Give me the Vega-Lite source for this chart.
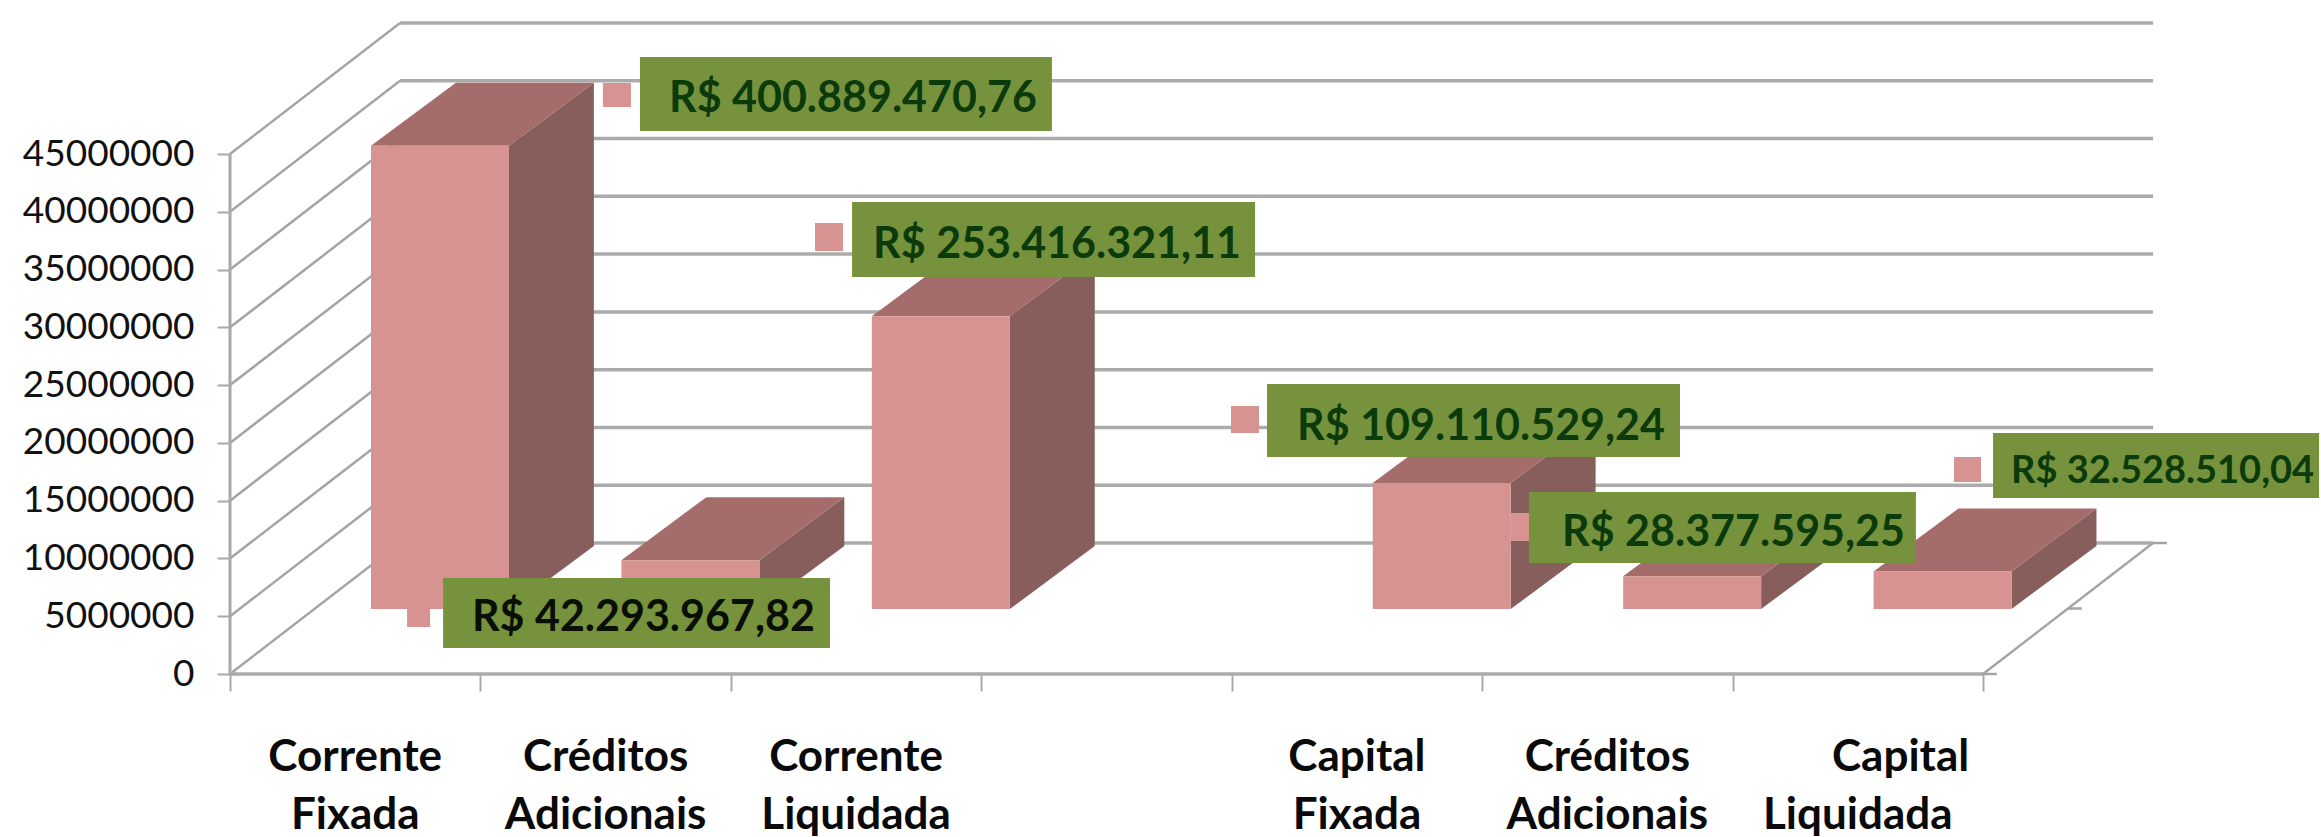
{
"$schema":"https://vega.github.io/schema/vega-lite/v6.json",
"width":2091,"height":674,
"autosize":{"type":"none"},
"padding":{"left":230,"top":0,"right":0,"bottom":163},
"background":"white",
"config":{"view":{"stroke":null},"font":"Lato"},
"datasets":{
"marcas":[{"marca":0},{"marca":5000000},{"marca":10000000},{"marca":15000000},{"marca":20000000},{"marca":25000000},{"marca":30000000},{"marca":35000000},{"marca":40000000},{"marca":45000000}],
"fundo":[{"p":0},{"p":0.5},{"p":1}],
"eixo":[{"ini":0}],
"barras":[
{"ordem":0,"categoria":"Corrente\nFixada","valor":40088947,"rotulo":"R$ 400.889.470,76","bx0":1.637,"bx1":3.282,"by0":46990000,"by1":53394000,"mx0":1.489,"mx1":1.601,"my0":49067000,"my1":51144000,"tx":1.753,"ty":50192000},
{"ordem":1,"categoria":"Créditos\nAdicionais","valor":4229397,"rotulo":"R$ 42.293.967,82","bx0":0.851,"bx1":2.396,"by0":2250000,"by1":8308000,"mx0":0.707,"mx1":0.799,"my0":4067000,"my1":6058000,"tx":0.966,"ty":5279000},
{"ordem":2,"categoria":"Corrente\nLiquidada","valor":25341632,"rotulo":"R$ 253.416.321,11","bx0":2.484,"bx1":4.093,"by0":34356000,"by1":40846000,"mx0":2.336,"mx1":2.448,"my0":36606000,"my1":39029000,"tx":2.568,"ty":37557000},
{"ordem":4,"categoria":"Capital\nFixada","valor":10911053,"rotulo":"R$ 109.110.529,24","bx0":4.141,"bx1":5.79,"by0":18779000,"by1":25096000,"mx0":3.997,"mx1":4.109,"my0":20856000,"my1":23192000,"tx":4.261,"ty":21808000},
{"ordem":5,"categoria":"Créditos\nAdicionais","valor":2837760,"rotulo":"R$ 28.377.595,25","bx0":5.187,"bx1":6.732,"by0":9606000,"by1":15750000,"mx0":5.115,"mx1":5.2,"my0":11510000,"my1":13933000,"tx":5.319,"ty":12634000},
{"ordem":6,"categoria":"\u200b\u00a0\u00a0\u00a0\u00a0\u00a0\u00a0\u00a0\u00a0Capital\nLiquidada","valor":3252851,"rotulo":"R$ 32.528.510,04","bx0":7.04,"bx1":8.342,"by0":15231000,"by1":20856000,"mx0":6.884,"mx1":6.992,"my0":16615000,"my1":18779000,"tx":7.112,"ty":17914000}
]},
"layer":[
{"data":{"name":"marcas"},
 "transform":[{"calculate":"datum.marca+11336000","as":"parede"}],
 "mark":{"type":"rule","color":"#ababab","strokeWidth":3.5},
 "encoding":{
  "x":{"datum":0.679,"type":"quantitative","scale":{"domain":[0,8.3496],"nice":false,"zero":false},
   "axis":{"values":[0,1,2,3,4,5,6,7],"labels":false,"ticks":true,"tickSize":17,"tickColor":"#a8a8a8","tickWidth":2,"domain":false,"grid":false,"title":null}},
  "x2":{"datum":7.679},
  "y":{"field":"parede","type":"quantitative","scale":{"domain":[0,58326923],"nice":false,"zero":false},
   "axis":{"values":[0,5000000,10000000,15000000,20000000,25000000,30000000,35000000,40000000,45000000],"format":"d","tickSize":13,"tickColor":"#a8a8a8","tickWidth":2,"labelFont":"Lato","labelFontSize":37,"labelColor":"#111111","labelPadding":23,"domain":false,"grid":false,"title":null}}
 }},
{"data":{"name":"marcas"},
 "transform":[{"calculate":"datum.marca+11336000","as":"parede"}],
 "mark":{"type":"rule","color":"#a4a4a4","strokeWidth":2.5},
 "encoding":{
  "x":{"datum":0,"type":"quantitative","scale":{"domain":[0,8.3496],"nice":false,"zero":false},"axis":{"title":null}},
  "x2":{"datum":0.679},
  "y":{"field":"marca","type":"quantitative","scale":{"domain":[0,58326923],"nice":false,"zero":false},"axis":{"title":null}},
  "y2":{"field":"parede"}
 }},
{"data":{"name":"eixo"},
 "mark":{"type":"rule","color":"#a8a8a8","strokeWidth":3},
 "encoding":{
  "x":{"datum":0,"type":"quantitative","scale":{"domain":[0,8.3496],"nice":false,"zero":false},"axis":{"title":null}},
  "y":{"datum":0,"type":"quantitative","scale":{"domain":[0,58326923],"nice":false,"zero":false},"axis":{"title":null}},
  "y2":{"datum":45000000}
 }},
{"data":{"name":"eixo"},
 "mark":{"type":"rule","color":"#ababab","strokeWidth":3.5},
 "encoding":{
  "x":{"datum":0,"type":"quantitative","scale":{"domain":[0,8.3496],"nice":false,"zero":false},"axis":{"title":null}},
  "x2":{"datum":7},
  "y":{"datum":0,"type":"quantitative","scale":{"domain":[0,58326923],"nice":false,"zero":false},"axis":{"title":null}}
 }},
{"data":{"name":"eixo"},
 "mark":{"type":"rule","color":"#a4a4a4","strokeWidth":2.5},
 "encoding":{
  "x":{"datum":7,"type":"quantitative","scale":{"domain":[0,8.3496],"nice":false,"zero":false},"axis":{"title":null}},
  "x2":{"datum":7.679},
  "y":{"datum":0,"type":"quantitative","scale":{"domain":[0,58326923],"nice":false,"zero":false},"axis":{"title":null}},
  "y2":{"datum":11336000}
 }},
{"data":{"name":"fundo"},
 "transform":[{"calculate":"7+0.679*datum.p","as":"xa"},{"calculate":"datum.xa+0.055","as":"xb"},{"calculate":"11336000*datum.p","as":"yp"}],
 "mark":{"type":"rule","color":"#a4a4a4","strokeWidth":2.5},
 "encoding":{
  "x":{"field":"xa","type":"quantitative","scale":{"domain":[0,8.3496],"nice":false,"zero":false},"axis":{"title":null}},
  "x2":{"field":"xb"},
  "y":{"field":"yp","type":"quantitative","scale":{"domain":[0,58326923],"nice":false,"zero":false},"axis":{"title":null}}
 }},
{"data":{"name":"barras"},
 "transform":[
  {"calculate":"datum.ordem+0.563","as":"x0"},
  {"calculate":"[0,1]","as":"t"},{"flatten":["t"]},
  {"calculate":"datum.x0+0.551+0.339*datum.t","as":"xs"},
  {"calculate":"5625000+5452000*datum.t","as":"ys0"},
  {"calculate":"datum.ys0+datum.valor","as":"ys1"}],
 "mark":{"type":"area","color":"#875E5C","orient":"vertical"},
 "encoding":{
  "x":{"field":"xs","type":"quantitative","scale":{"domain":[0,8.3496],"nice":false,"zero":false},"axis":{"title":null}},
  "y":{"field":"ys0","type":"quantitative","scale":{"domain":[0,58326923],"nice":false,"zero":false},"axis":{"title":null}},
  "y2":{"field":"ys1"},
  "detail":{"field":"ordem"}
 }},
{"data":{"name":"barras"},
 "transform":[
  {"calculate":"datum.ordem+0.563","as":"x0"},
  {"calculate":"5625000+datum.valor","as":"topo"},
  {"calculate":"[0,1,2,3]","as":"t"},{"flatten":["t"]},
  {"calculate":"datum.x0+[0,0.339,0.551,0.89][datum.t]","as":"xt"},
  {"calculate":"datum.topo+[0,0,0,5452000][datum.t]","as":"yt0"},
  {"calculate":"datum.topo+[0,5452000,5452000,5452000][datum.t]","as":"yt1"}],
 "mark":{"type":"area","color":"#A46C6B","orient":"vertical"},
 "encoding":{
  "x":{"field":"xt","type":"quantitative","scale":{"domain":[0,8.3496],"nice":false,"zero":false},"axis":{"title":null}},
  "y":{"field":"yt0","type":"quantitative","scale":{"domain":[0,58326923],"nice":false,"zero":false},"axis":{"title":null}},
  "y2":{"field":"yt1"},
  "detail":{"field":"ordem"}
 }},
{"data":{"name":"barras"},
 "transform":[
  {"calculate":"datum.ordem+0.563","as":"x0"},
  {"calculate":"datum.x0+0.551","as":"x1"},
  {"calculate":"5625000+datum.valor","as":"topo"},
  {"calculate":"5625000","as":"base"}],
 "mark":{"type":"rect","color":"#D69391"},
 "encoding":{
  "x":{"field":"x0","type":"quantitative","scale":{"domain":[0,8.3496],"nice":false,"zero":false},"axis":{"title":null}},
  "x2":{"field":"x1"},
  "y":{"field":"base","type":"quantitative","scale":{"domain":[0,58326923],"nice":false,"zero":false},"axis":{"title":null}},
  "y2":{"field":"topo"}
 }},
{"data":{"name":"barras"},
 "mark":{"type":"rect","color":"#D69391"},
 "encoding":{
  "x":{"field":"mx0","type":"quantitative","scale":{"domain":[0,8.3496],"nice":false,"zero":false},"axis":{"title":null}},
  "x2":{"field":"mx1"},
  "y":{"field":"my0","type":"quantitative","scale":{"domain":[0,58326923],"nice":false,"zero":false},"axis":{"title":null}},
  "y2":{"field":"my1"}
 }},
{"data":{"name":"barras"},
 "mark":{"type":"rect","color":"#76923C"},
 "encoding":{
  "x":{"field":"bx0","type":"quantitative","scale":{"domain":[0,8.3496],"nice":false,"zero":false},"axis":{"title":null}},
  "x2":{"field":"bx1"},
  "y":{"field":"by0","type":"quantitative","scale":{"domain":[0,58326923],"nice":false,"zero":false},"axis":{"title":null}},
  "y2":{"field":"by1"}
 }},
{"data":{"name":"barras"},
 "mark":{"type":"text","align":"left","baseline":"middle","font":"Lato","fontWeight":"bold","yOffset":5},
 "encoding":{
  "x":{"field":"tx","type":"quantitative","scale":{"domain":[0,8.3496],"nice":false,"zero":false},"axis":{"title":null}},
  "y":{"field":"ty","type":"quantitative","scale":{"domain":[0,58326923],"nice":false,"zero":false},"axis":{"title":null}},
  "text":{"field":"rotulo"},
  "size":{"condition":{"test":"datum.ordem===6","value":38},"value":43},
  "color":{"condition":{"test":"datum.ordem===1","value":"#0a0f05"},"value":"#0B3A0B"}
 }},
{"data":{"name":"barras"},
 "transform":[{"calculate":"datum.ordem+0.5","as":"xc"},{"calculate":"0","as":"y0"}],
 "mark":{"type":"text","align":"center","baseline":"alphabetic","font":"Lato","fontWeight":"bold","fontSize":44,"color":"#0a0a0a","lineBreak":"\n","lineHeight":58,"yOffset":97},
 "encoding":{
  "x":{"field":"xc","type":"quantitative","scale":{"domain":[0,8.3496],"nice":false,"zero":false},"axis":{"title":null}},
  "y":{"field":"y0","type":"quantitative","scale":{"domain":[0,58326923],"nice":false,"zero":false},"axis":{"title":null}},
  "text":{"field":"categoria"}
 }}
]
}
